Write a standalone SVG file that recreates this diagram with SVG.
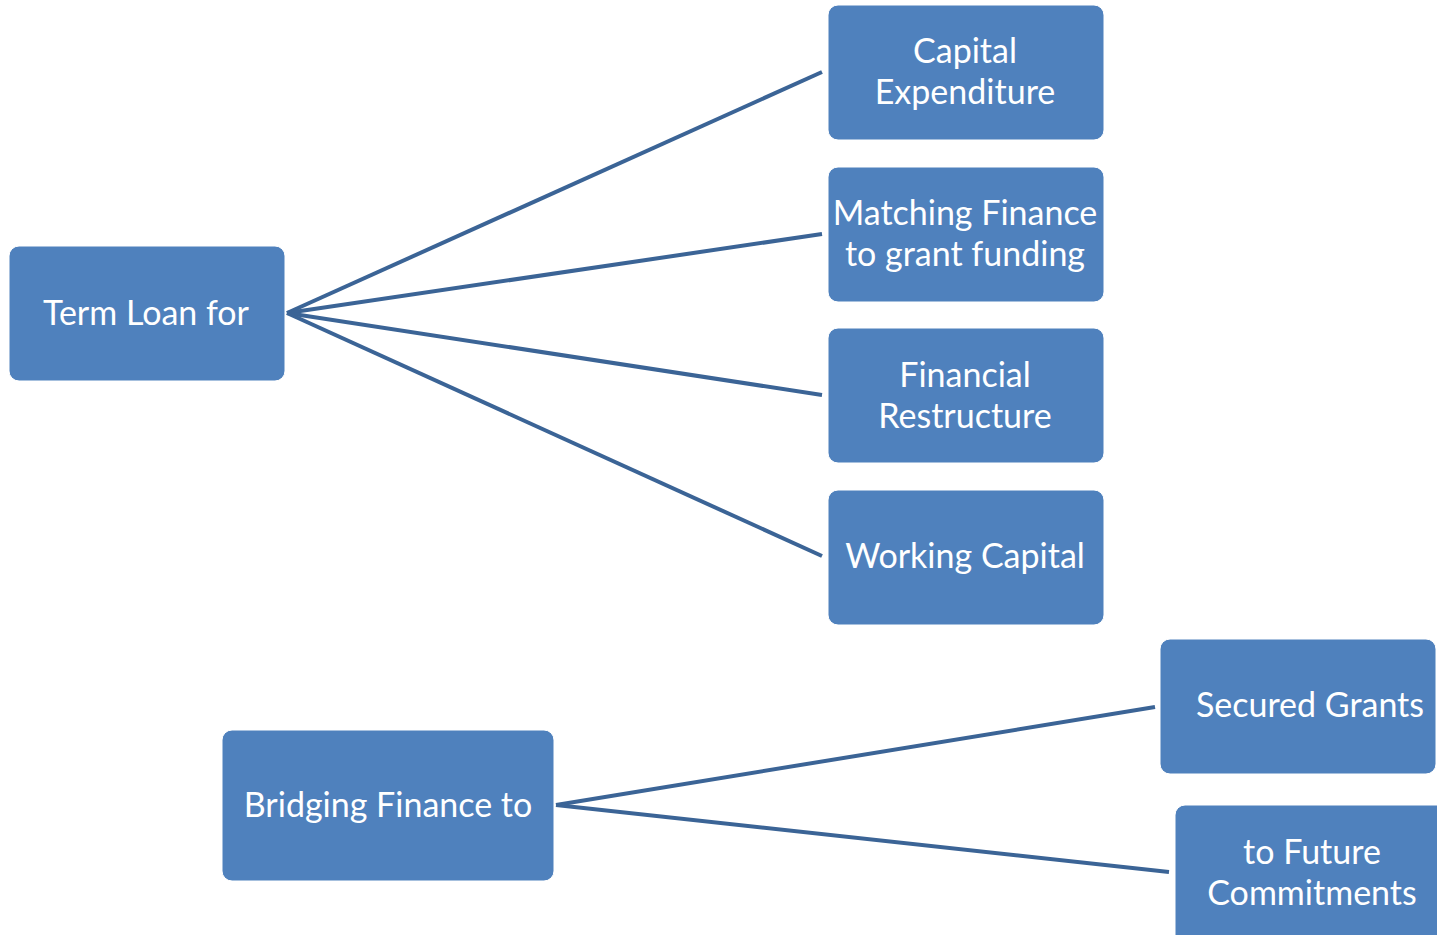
<svg xmlns="http://www.w3.org/2000/svg" width="1437" height="935" viewBox="0 0 1437 935">
<style>
.box{fill:#4f81bd;stroke:#ffffff;stroke-width:1}
.t{font-family:Lato,"Open Sans",sans-serif;font-size:34px;fill:#ffffff;text-anchor:middle}
.c{stroke:#3b6496;stroke-width:4;fill:none}
</style>
<rect width="1437" height="935" fill="#ffffff"/>
<g id="connectors">
<line class="c" x1="287" y1="313" x2="822" y2="72"/>
<line class="c" x1="287" y1="313" x2="822" y2="234"/>
<line class="c" x1="287" y1="313" x2="822" y2="395"/>
<line class="c" x1="287" y1="313" x2="822" y2="556"/>
<line class="c" x1="556" y1="805" x2="1155" y2="707"/>
<line class="c" x1="556" y1="805" x2="1169" y2="872"/>
</g>
<g id="term-loan"><rect class="box" x="9" y="246" width="276" height="135" rx="10"/><text class="t" x="146" y="325">Term Loan for</text></g>
<g id="capital-expenditure"><rect class="box" x="828" y="5" width="276" height="135" rx="10"/><text class="t" x="965" y="63">Capital</text><text class="t" x="965" y="104">Expenditure</text></g>
<g id="matching-finance"><rect class="box" x="828" y="167" width="276" height="135" rx="10"/><text class="t" x="965" y="225">Matching Finance</text><text class="t" x="965" y="266">to grant funding</text></g>
<g id="financial-restructure"><rect class="box" x="828" y="328" width="276" height="135" rx="10"/><text class="t" x="965" y="387">Financial</text><text class="t" x="965" y="428">Restructure</text></g>
<g id="working-capital"><rect class="box" x="828" y="490" width="276" height="135" rx="10"/><text class="t" x="965" y="568">Working Capital</text></g>
<g id="bridging-finance"><rect class="box" x="222" y="730" width="332" height="151" rx="10"/><text class="t" x="388" y="817">Bridging Finance to</text></g>
<g id="secured-grants"><rect class="box" x="1160" y="639" width="276" height="135" rx="10"/><text class="t" x="1310" y="717">Secured Grants</text></g>
<g id="future-commitments"><rect class="box" x="1175" y="805" width="276" height="150" rx="10"/><text class="t" x="1312" y="864">to Future</text><text class="t" x="1312" y="905">Commitments</text></g>
</svg>
